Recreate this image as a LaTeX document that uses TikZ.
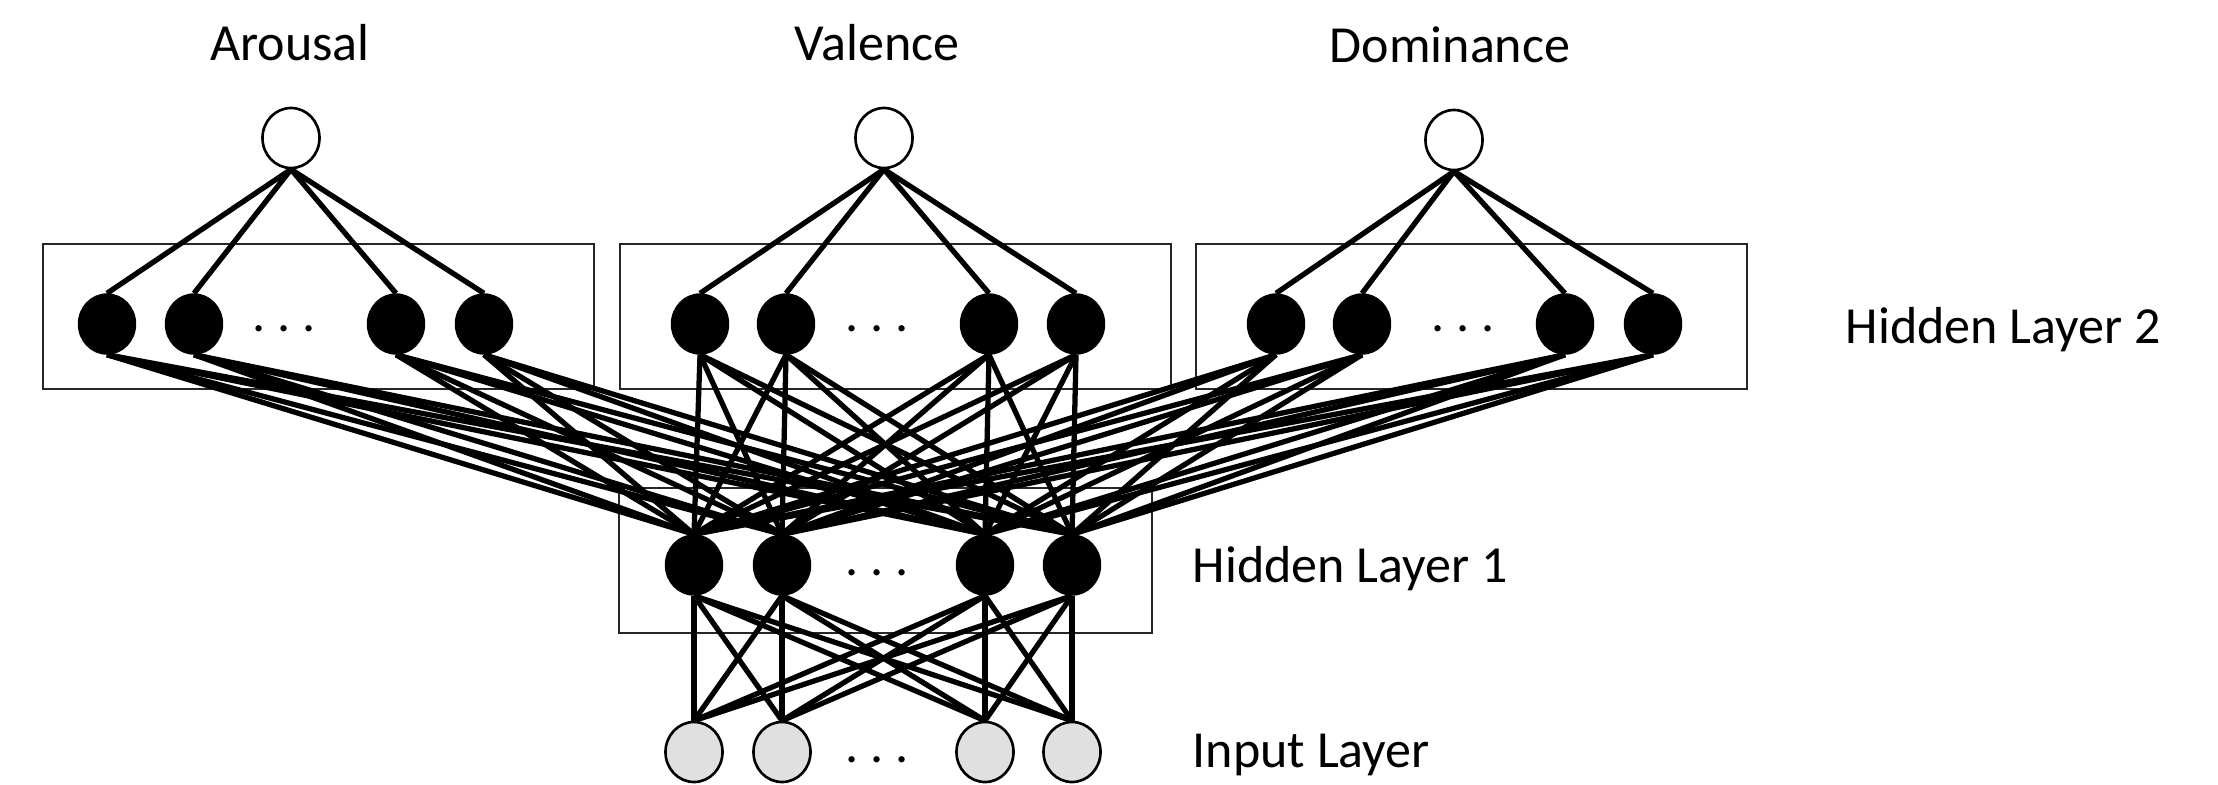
\documentclass[tikz,border=0pt]{standalone}
\usepackage{fontspec}
\setmainfont{Carlito}
\usepackage{tikz}
\usetikzlibrary{shapes.geometric}
\tikzset{
    unit/.style={draw, ellipse, inner sep=0pt, minimum width=5.7mm, minimum height=6mm},
    outp/.style={unit, line width=0.75pt, fill=white},
    inp/.style={unit, line width=0.75pt, fill=black!12},
    conn/.style={line width=1.5pt},
    layerbox/.style={line width=0.7pt, draw=black!85},
    lbl/.style={inner sep=0pt, font=\fontsize{14.8}{17}\selectfont}}

\begin{document}
\begin{tikzpicture}[x=0.01cm,y=-0.01cm]
\tikzstyle{hid}=[unit,fill=black]
\useasboundingbox (0,0) rectangle (2218,784);
    % boxes round the hidden layers
    \draw[layerbox] (43,244) rectangle (594,389);
    \draw[layerbox] (620,244) rectangle (1171,389);
    \draw[layerbox] (1196,244) rectangle (1747,389);
    \draw[layerbox] (619,488) rectangle (1152,633);

    % outputs
    \node (A)[outp] at (291,138) {};
    \node (V)[outp] at (884,138) {};
    \node (D)[outp] at (1454,140) {};
    \node (Atxt)[lbl,anchor=base] at (290,60) {Arousal};
    \node (Vtxt)[lbl,anchor=base] at (877,60) {Valence};
    \node (Dtxt)[lbl,anchor=base] at (1450,62) {Dominance};

    % hidden layer 2, one group per output
    \foreach \n/\x in {1/107,2/194,3/396,4/484} \node (a\n)[hid] at (\x,324) {};
    \foreach \n/\x in {1/700,2/786,3/989,4/1076} \node (v\n)[hid] at (\x,324) {};
    \foreach \n/\x in {1/1276,2/1362,3/1565,4/1653} \node (d\n)[hid] at (\x,324) {};
    \node (adots)[lbl] at (284,329) {.\ .\ .};
    \node (vdots)[lbl] at (877,329) {.\ .\ .};
    \node (ddots)[lbl] at (1463,329) {.\ .\ .};

    % hidden layer 1 and inputs
    \foreach \n/\x in {1/694,2/782,3/985,4/1072} {
        \node (h\n)[hid] at (\x,565) {};
        \node (x\n)[inp] at (\x,752) {};
    }
    \node (hdots)[lbl] at (877,573) {.\ .\ .};
    \node (xdots)[lbl] at (877,760) {.\ .\ .};

    \node (L2)[lbl,anchor=base west] at (1845,343) {Hidden Layer 2};
    \node (L1)[lbl,anchor=base west] at (1192,582) {Hidden Layer 1};
    \node (L0)[lbl,anchor=base west] at (1192,767) {Input Layer};

    \foreach \i in {1,...,4} {
        \draw[conn] (A.south) -- (a\i.north);
        \draw[conn] (V.south) -- (v\i.north);
        \draw[conn] (D.south) -- (d\i.north);
        \foreach \j in {1,...,4} {
            \draw[conn] (a\i.south) -- (h\j.north);
            \draw[conn] (v\i.south) -- (h\j.north);
            \draw[conn] (d\i.south) -- (h\j.north);
            \draw[conn] (h\i.south) -- (x\j.north);
        }
    }
    %\draw[conn] (x1.south) -- (x4.south);
\end{tikzpicture}
\end{document}
